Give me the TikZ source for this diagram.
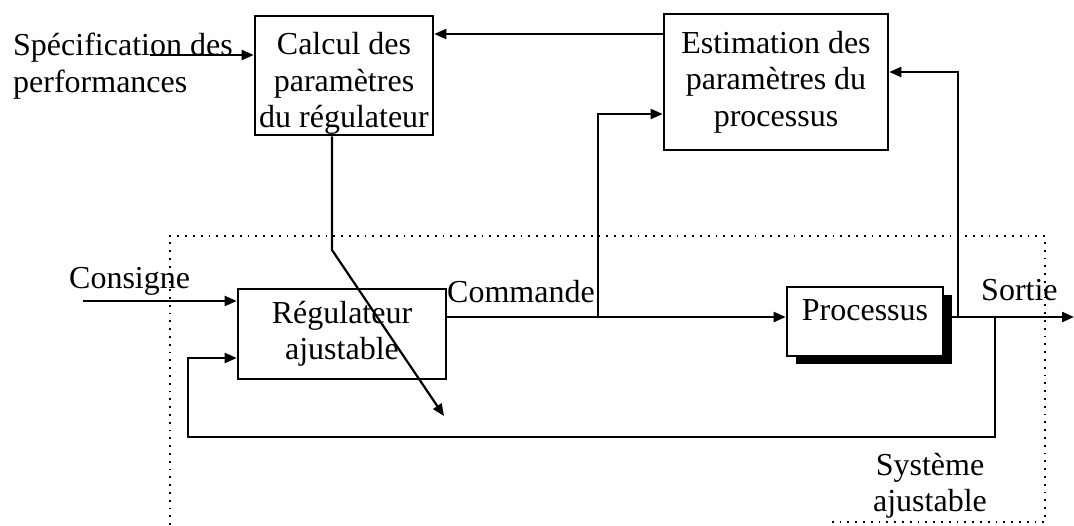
\documentclass[tikz,border=0pt]{standalone}
\usepackage{fontspec}
\setmainfont{Liberation Serif}
\usetikzlibrary{arrows.meta,shadows}
\begin{document}
\begin{tikzpicture}[x=1pt,y=-1pt,
  every node/.style={font=\fontsize{32}{36.5}\selectfont},
  blk/.style={draw,line width=2.6pt,inner sep=0pt,align=center,fill=white},
  conn/.style={line width=2.2pt},
  arr/.style={conn,-{Triangle[length=12pt,width=10pt]}},
  lbl/.style={inner sep=0pt},
  frame/.style={line width=1.8pt,dash pattern=on 1.8pt off 6pt}]
\useasboundingbox (0,0) rectangle (1074,525);

% blocks
\node[blk,minimum width=178pt,minimum height=119pt] (calc) at (344,75.5) {\rule{0pt}{38pt}Calcul des\\paramètres\\du régulateur};
\node[blk,minimum width=224pt,minimum height=136pt] (est) at (776,82) {Estimation des\\paramètres du\\processus};
\node[blk,minimum width=208pt,minimum height=90pt] (reg) at (342,334) {Régulateur\\ajustable};
\node[blk,minimum width=156pt,minimum height=69pt,
      drop shadow={shadow xshift=9pt,shadow yshift=-8pt,fill=black,opacity=1}] (proc) at (865,321.5) {Processus\rule[-22pt]{0pt}{22pt}};

% labels
\node[lbl,anchor=west,align=left] (spec) at (13,66) {Spécification des\\performances};
\node[lbl,anchor=base west] (cons) at (69,288) {Consigne};
\node[lbl,anchor=base west] (cmd) at (447,302) {Commande};
\node[lbl,anchor=base west] (sort) at (981,300) {Sortie};
\node[lbl,align=center] (sys) at (930,486) {Système\\ajustable};

% helper coordinates
\coordinate (c34) at (0,34);
\coordinate (c72) at (0,72);
\coordinate (c114) at (0,114);
\coordinate (c358) at (0,358);
\coordinate (specstart) at (150,55);
\coordinate (consstart) at (83,301);
\coordinate (cmdj) at (598,317);
\coordinate (outj) at (958,317);
\coordinate (fbj) at (995,317);
\coordinate (outend) at (1074,317);
\coordinate (bend) at (332,250);
\coordinate (tip) at (444,416);
\coordinate (fbl) at (188,437);

% connectors
\draw[arr] (est.west |- c34) -- (calc.east |- c34);
\draw[arr] (specstart) -- (calc.west |- specstart);
\draw[arr] (calc.south -| bend) -- (bend) -- (tip);
\draw[arr] (consstart) -- (reg.west |- consstart);
\draw[arr] (reg.east |- cmdj) -- (proc.west |- cmdj);
\draw[arr] (cmdj) |- (est.west |- c114);
\draw[arr] (proc.east |- outj) -- (outend);
\draw[arr] (outj) |- (est.east |- c72);
\draw[arr] (fbj) |- (fbl) |- (reg.west |- c358);

% dotted frame of the adjustable system
\draw[frame] (170,525) -- (170,236) -- (1045,236) -- (1045,522) -- (830,522);
\end{tikzpicture}
\end{document}
